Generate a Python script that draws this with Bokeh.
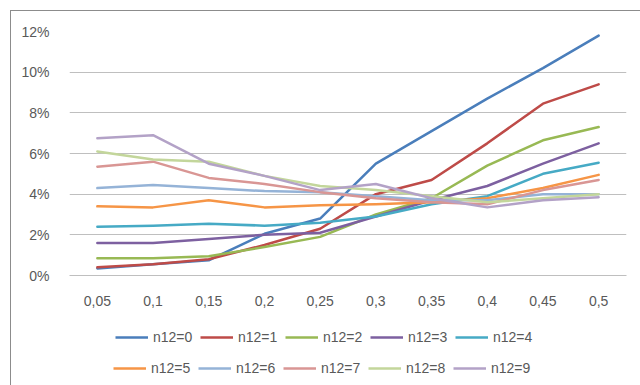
from bokeh.plotting import figure
from bokeh.layouts import column
from bokeh.models import Legend, LegendItem, NumeralTickFormatter, Range1d, FactorRange
from bokeh.embed import file_html
from bokeh.resources import INLINE

# x categories (p values) and series, values in %
categories = ["0,05", "0,1", "0,15", "0,2", "0,25", "0,3", "0,35", "0,4", "0,45", "0,5"]

n12_0 = [0.35, 0.55, 0.75, 2.05, 2.8, 5.5, 7.1, 8.7, 10.2, 11.8]
n12_1 = [0.4, 0.55, 0.8, 1.5, 2.3, 4.0, 4.7, 6.5, 8.45, 9.4]
n12_2 = [0.85, 0.85, 0.95, 1.4, 1.9, 3.0, 3.8, 5.4, 6.65, 7.3]
n12_3 = [1.6, 1.6, 1.8, 2.0, 2.1, 2.9, 3.7, 4.4, 5.5, 6.5]
n12_4 = [2.4, 2.45, 2.55, 2.45, 2.6, 2.9, 3.5, 3.9, 5.0, 5.55]
n12_5 = [3.4, 3.35, 3.7, 3.35, 3.45, 3.5, 3.6, 3.8, 4.3, 4.95]
n12_6 = [4.3, 4.45, 4.3, 4.15, 4.1, 3.9, 3.7, 3.7, 4.0, 4.0]
n12_7 = [5.35, 5.6, 4.8, 4.5, 4.1, 3.8, 3.6, 3.5, 4.2, 4.7]
n12_8 = [6.1, 5.7, 5.6, 4.9, 4.4, 4.2, 3.9, 3.6, 3.8, 4.0]
n12_9 = [6.75, 6.9, 5.5, 4.9, 4.2, 4.5, 3.8, 3.35, 3.7, 3.85]

series = [n12_0, n12_1, n12_2, n12_3, n12_4, n12_5, n12_6, n12_7, n12_8, n12_9]
names = ["n12=0", "n12=1", "n12=2", "n12=3", "n12=4",
         "n12=5", "n12=6", "n12=7", "n12=8", "n12=9"]
colors = ["#4A7EBB", "#BE4B48", "#98B954", "#7D60A0", "#46AAC5",
          "#F69546", "#95B3D7", "#D99694", "#C3D69B", "#B3A2C7"]

FONT = "Liberation Sans"
TXT = "#595959"
LW = 2.5

# ---- main chart -------------------------------------------------------------
p = figure(width=629, height=311, output_backend="svg", toolbar_location=None,
           x_range=FactorRange(*categories, range_padding=0),
           y_range=Range1d(0, 0.12),
           min_border_left=58, min_border_right=14, min_border_top=20,
           min_border_bottom=47)
p.background_fill_color = "white"
p.border_fill_color = "white"
p.outline_line_color = None

for vals, c in zip(series, colors):
    p.line(x=categories, y=[v / 100 for v in vals], line_color=c,
           line_width=LW, line_join="round", line_cap="round")

p.yaxis.formatter = NumeralTickFormatter(format="0%")
p.yaxis.ticker = [0, 0.02, 0.04, 0.06, 0.08, 0.10, 0.12]
p.yaxis.axis_line_color = None
p.yaxis.major_tick_line_color = None
p.yaxis.minor_tick_line_color = None
p.yaxis.major_label_standoff = 14
p.xaxis.axis_line_color = "#BFBFBF"
p.xaxis.major_tick_line_color = None
p.xaxis.major_label_standoff = 14
for ax in (p.xaxis, p.yaxis):
    ax.major_label_text_font = FONT
    ax.major_label_text_font_size = "14px"
    ax.major_label_text_color = TXT

p.xgrid.grid_line_color = None
p.ygrid.grid_line_color = "#BFBFBF"
p.ygrid.grid_line_width = 1

# ---- legend strip (two rows) ---------------------------------------------------
leg = figure(width=629, height=63, output_backend="svg", toolbar_location=None,
             x_axis_type=None, y_axis_type=None, x_range=(0, 1), y_range=(0, 1),
             min_border=0)
leg.outline_line_color = None
leg.grid.visible = False
leg.background_fill_color = "white"
leg.border_fill_color = "white"

# key renderers sit outside the visible range; only their legend swatches show
keys = [leg.line(x=[-2, -1], y=[-2, -1], line_color=c, line_width=LW) for c in colors]


def legend_row(idx, loc):
    return Legend(items=[LegendItem(label=names[i], renderers=[keys[i]]) for i in idx],
                  orientation="horizontal", location=loc,
                  glyph_width=33, glyph_height=18, label_height=18, label_width=45,
                  label_standoff=5, spacing=2, padding=0, margin=0,
                  border_line_color=None, background_fill_alpha=0,
                  label_text_font=FONT, label_text_font_size="14px",
                  label_text_color=TXT)


leg.add_layout(legend_row(range(0, 5), (46, 39)))
leg.add_layout(legend_row(range(5, 10), (44, 8)))

chart = column(p, leg, spacing=0)
chart.margin = (10, 0, 0, 10)
chart.styles = {"border-top": "1px solid #8C8C8C", "border-left": "1px solid #8C8C8C"}

open("out.html", "w").write(file_html(chart, INLINE))
